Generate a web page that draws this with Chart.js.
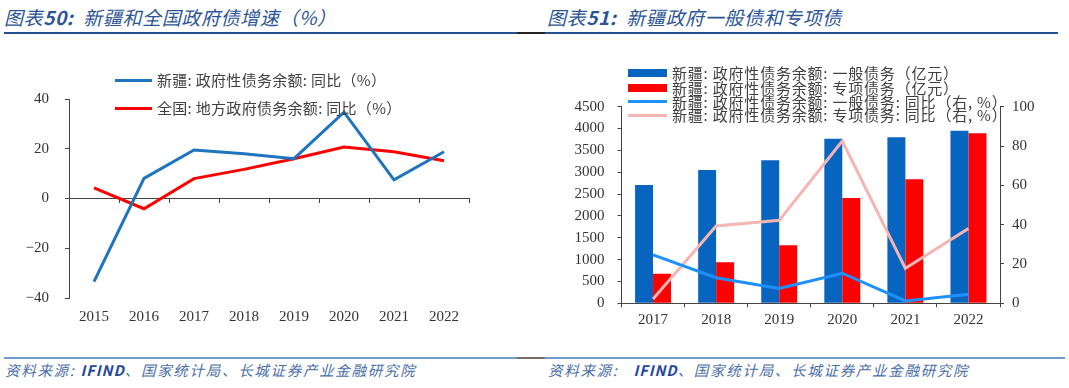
<!DOCTYPE html>
<html>
<head>
<meta charset="utf-8">
<script src="https://cdn.jsdelivr.net/npm/chart.js@4.4.1/dist/chart.umd.min.js"></script>
<style>
  html,body{margin:0;padding:0;background:#fff;}
  body{width:1069px;height:388px;position:relative;overflow:hidden;font-family:"Noto Sans CJK SC","Noto Sans",sans-serif;}
  .title{position:absolute;top:4px;font-size:19px;font-style:italic;color:#2c5596;white-space:pre;line-height:26px;letter-spacing:0.6px;}
  .title b{font-weight:bold;}
  .hline{position:absolute;height:2px;}
  .foot{position:absolute;top:361px;font-size:14.5px;font-style:italic;color:#4a6ea8;white-space:pre;line-height:18px;letter-spacing:1.7px;}
  .foot b{color:#26479a;letter-spacing:1px;}
  .cw{position:absolute;}
  .legend{position:absolute;font-size:15px;color:#404040;white-space:pre;font-family:"Noto Sans CJK SC",sans-serif;}
  .li{position:absolute;left:0;height:20px;line-height:20px;}
  .sw{position:absolute;left:0;}
  .lt{position:absolute;white-space:pre;}
</style>
</head>
<body>
<div class="title" style="left:4px;">图表<b>50:</b>  新疆和全国政府债增速（%）</div>
<div class="title" style="left:547px;">图表<b>51:</b>  新疆政府一般债和专项债</div>
<div class="hline" style="left:4px;top:32px;width:513px;background:#24508f;"></div>
<div class="hline" style="left:517px;top:32px;width:28px;background:#222;"></div>
<div class="hline" style="left:545px;top:32px;width:513px;background:#24508f;"></div>
<div class="hline" style="left:4px;top:357px;width:513px;background:#6f9bd0;"></div>
<div class="hline" style="left:517px;top:357px;width:28px;background:#7a6e66;"></div>
<div class="hline" style="left:545px;top:357px;width:520px;background:#6f9bd0;"></div>
<div class="foot" style="left:5px;">资料来源: <b>IFIND</b>、国家统计局、长城证券产业金融研究院</div>
<div class="foot" style="left:548px;">资料来源:   <b>IFIND</b>、国家统计局、长城证券产业金融研究院</div>

<div class="cw" style="left:0;top:40px;width:520px;height:300px;"><canvas id="c1" width="520" height="300"></canvas></div>
<div class="cw" style="left:545px;top:40px;width:524px;height:300px;"><canvas id="c2" width="524" height="300"></canvas></div>
<div class="legend" id="leg1" style="left:115px;top:70px;letter-spacing:0.3px;"></div>
<div class="legend" id="leg2" style="left:628px;top:63px;letter-spacing:0.8px;"></div>

<script>
// ---------- data: chart 50 ----------
const years1 = ['2015','2016','2017','2018','2019','2020','2021','2022'];
const xinjiangYoY = [-33.4, 8.1, 19.5, 18.0, 16.0, 34.7, 7.5, 18.8];
const nationalYoY = [4.3, -4.1, 8.0, 11.7, 16.0, 20.7, 18.8, 15.2];
const names1 = ['新疆: 政府性债务余额: 同比（%）', '全国: 地方政府债务余额: 同比（%）'];
const colors1 = ['#1e74bd', '#ff0000'];

// ---------- data: chart 51 ----------
const years2 = ['2017','2018','2019','2020','2021','2022'];
const generalDebt = [2708, 3051, 3272, 3768, 3798, 3951];
const specialDebt = [679, 938, 1327, 2410, 2837, 3890];
const generalYoY = [24.6, 13.0, 7.6, 15.3, 1.2, 4.6];
const specialYoY = [2.2, 39.3, 42.2, 82.5, 17.8, 38.1];
const names2 = [
  '新疆: 政府性债务余额: 一般债务（亿元）',
  '新疆: 政府性债务余额: 专项债务（亿元）',
  '新疆: 政府性债务余额: 一般债务: 同比（右, %）',
  '新疆: 政府性债务余额: 专项债务: 同比（右, %）'
];
const colors2 = ['#0865bf', '#ff0000', '#1e90ff', '#f5b5b3'];

const axisColor = '#444';
const tickFont = {family: '"Liberation Serif","Times New Roman",serif', size: 15};
const tickColor = '#333';

// ---------- chart 50 ----------
new Chart(document.getElementById('c1'), {
  type: 'line',
  data: {
    labels: years1,
    datasets: [
      {label: names1[0], data: xinjiangYoY, borderColor: colors1[0], backgroundColor: colors1[0], borderWidth: 3, pointRadius: 0, tension: 0},
      {label: names1[1], data: nationalYoY, borderColor: colors1[1], backgroundColor: colors1[1], borderWidth: 3, pointRadius: 0, tension: 0}
    ]
  },
  options: {
    responsive: false, animation: false, devicePixelRatio: 1,
    layout: {padding: {left: 19, right: 51, top: 59, bottom: 12}},
    plugins: {legend: {display: false}, tooltip: {enabled: false}},
    scales: {
      x: {
        type: 'category', position: 'bottom', offset: true,
        grid: {display: false, drawTicks: false}, border: {display: false},
        ticks: {font: tickFont, color: tickColor, padding: 10, maxRotation: 0, autoSkip: false},
        afterFit: s => { s.height = 30; }
      },
      x0: {
        type: 'category', labels: years1, position: {y: 0}, offset: true,
        grid: {offset: true, drawOnChartArea: false, drawTicks: true, tickLength: 4, color: axisColor, lineWidth: 1},
        border: {display: true, color: axisColor, width: 1},
        ticks: {display: false}
      },
      y: {
        min: -40, max: 40,
        grid: {drawOnChartArea: false, drawTicks: true, tickLength: 4, color: axisColor},
        border: {display: true, color: axisColor, width: 1},
        ticks: {stepSize: 20, font: tickFont, color: tickColor, padding: 16,
                callback: v => String(v).replace('-', '\u2212')},
        afterFit: s => { s.width = 50; }
      }
    }
  }
});

// ---------- chart 51 ----------
new Chart(document.getElementById('c2'), {
  type: 'bar',
  data: {
    labels: years2,
    datasets: [
      {type: 'bar', label: names2[0], data: generalDebt, backgroundColor: colors2[0], yAxisID: 'y', order: 1, categoryPercentage: 0.57, barPercentage: 1.0},
      {type: 'bar', label: names2[1], data: specialDebt, backgroundColor: colors2[1], yAxisID: 'y', order: 1, categoryPercentage: 0.57, barPercentage: 1.0},
      {type: 'line', label: names2[2], data: generalYoY, borderColor: colors2[2], backgroundColor: colors2[2], borderWidth: 3, pointRadius: 0, tension: 0, yAxisID: 'y2', order: 0},
      {type: 'line', label: names2[3], data: specialYoY, borderColor: colors2[3], backgroundColor: colors2[3], borderWidth: 3, pointRadius: 0, tension: 0, yAxisID: 'y2', order: 0}
    ]
  },
  options: {
    responsive: false, animation: false, devicePixelRatio: 1,
    layout: {padding: {left: 26.5, right: 19, top: 66.7, bottom: 6.7}},
    plugins: {legend: {display: false}, tooltip: {enabled: false}},
    scales: {
      x: {
        offset: true,
        grid: {offset: true, drawOnChartArea: false, drawTicks: true, tickLength: 4, color: axisColor},
        border: {display: true, color: axisColor, width: 1},
        ticks: {font: tickFont, color: tickColor, padding: 4, maxRotation: 0, autoSkip: false},
        afterFit: s => { s.height = 30; }
      },
      y: {
        position: 'left', min: 0, max: 4500,
        grid: {drawOnChartArea: false, drawTicks: true, tickLength: 4, color: axisColor},
        border: {display: true, color: axisColor, width: 1},
        ticks: {stepSize: 500, font: tickFont, color: tickColor, padding: 13, callback: v => String(v)},
        afterFit: s => { s.width = 50; }
      },
      y2: {
        position: 'right', min: 0, max: 100,
        grid: {drawOnChartArea: false, drawTicks: true, tickLength: 4, color: axisColor},
        border: {display: true, color: axisColor, width: 1},
        ticks: {stepSize: 20, font: tickFont, color: tickColor, padding: 8, callback: v => String(v)},
        afterFit: s => { s.width = 50; }
      }
    }
  }
});

// ---------- HTML legends built from the series names/colours ----------
function buildLegend(el, names, colors, kinds, rowTops, textLeft, swW) {
  names.forEach((n, i) => {
    const row = document.createElement('div');
    row.className = 'li';
    row.style.top = rowTops[i] + 'px';
    const sw = document.createElement('div');
    sw.className = 'sw';
    const h = kinds[i] === 'bar' ? 8 : 3;
    sw.style.width = swW + 'px';
    sw.style.height = h + 'px';
    sw.style.top = (10 - h / 2) + 'px';
    sw.style.background = colors[i];
    const t = document.createElement('div');
    t.className = 'lt';
    t.style.left = textLeft + 'px';
    t.textContent = n;
    row.appendChild(sw); row.appendChild(t);
    el.appendChild(row);
  });
}
buildLegend(document.getElementById('leg1'), names1, colors1, ['line','line'], [0, 28], 42, 37);
buildLegend(document.getElementById('leg2'), names2, colors2, ['bar','bar','line','line'], [0, 14.5, 28.7, 42], 44, 39);
</script>
</body>
</html>
